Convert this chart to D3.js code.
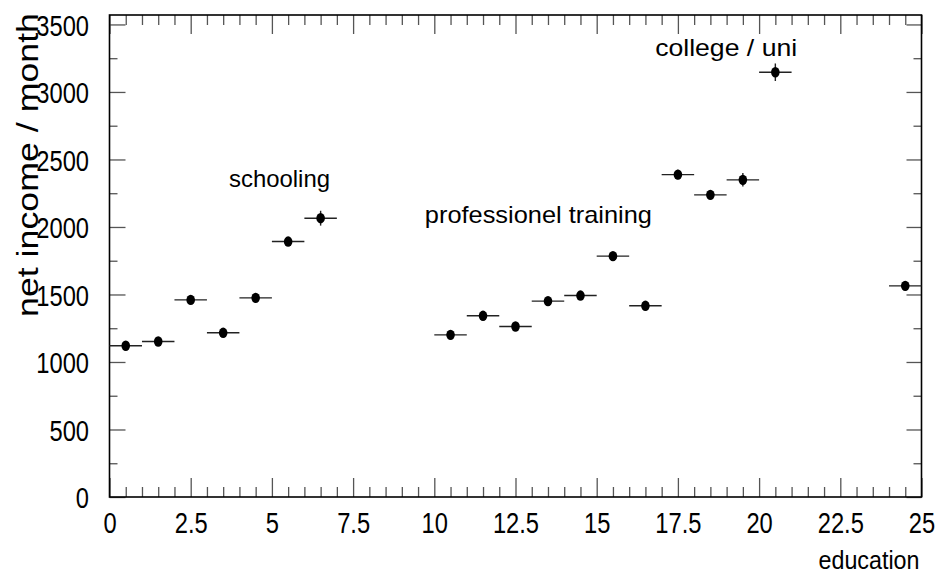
<!DOCTYPE html>
<html>
<head>
<meta charset="utf-8">
<script src="https://cdn.jsdelivr.net/npm/d3@7"></script>
<style>
  html, body { margin: 0; padding: 0; background: #fff; }
  svg { display: block; }
  text { font-family: "Liberation Sans", Arial, sans-serif; fill: #000; }
</style>
</head>
<body>
<svg id="chart" width="940" height="581"></svg>
<script>
// ---- data ----
const binCenters = [0.5, 1.5, 2.5, 3.5, 4.5, 5.5, 6.5, 10.5, 11.5, 12.5, 13.5, 14.5, 15.5, 16.5, 17.5, 18.5, 19.5, 20.5, 24.5];
const incomes    = [1120, 1152, 1460, 1216, 1475, 1892, 2065, 1201, 1342, 1263, 1451, 1492, 1784, 1416, 2388, 2238, 2349, 3146, 1564];
const errors     = [25, 25, 25, 25, 25, 30, 55, 20, 25, 25, 25, 25, 30, 25, 35, 30, 50, 65, 35];
const binWidth = 1;
const xTickLabels = [0, 2.5, 5, 7.5, 10, 12.5, 15, 17.5, 20, 22.5, 25];
const yTickLabels = [0, 500, 1000, 1500, 2000, 2500, 3000, 3500];
const groupLabels = ["schooling", "professionel training", "college / uni"];
const xTitle = "education";
const yTitle = "net income / month";

// ---- layout ----
const svg = d3.select("#chart");
const L = 109.5, R = 921.5, T = 15, B = 497;
const x = d3.scaleLinear().domain([0, 25]).range([L, R]);
const y = d3.scaleLinear().domain([0, 3570]).range([B, T]);

const xMinor = d3.range(0, 25.001, 0.5).filter(v => Math.abs(v / 2.5 - Math.round(v / 2.5)) > 1e-6);
const yMinor = d3.range(250, 3570, 500);

const tickColor = "#555";
function styleAxis(g) {
  g.select(".domain").remove();
  g.selectAll(".tick line").attr("stroke", tickColor).attr("stroke-width", 1.3);
}

const SX = 0.79;
// bottom axis: major
const gb = svg.append("g").attr("transform", `translate(0,${B})`)
  .call(d3.axisBottom(x).tickValues(xTickLabels).tickFormat(d3.format("~g")).tickSize(-19).tickPadding(35));
styleAxis(gb);
gb.selectAll("text").attr("font-size", 30).attr("dy", 0).attr("y", 36)
  .attr("transform", `scale(${SX},1)`).attr("x", 0);
// bottom minor
styleAxis(svg.append("g").attr("transform", `translate(0,${B})`)
  .call(d3.axisBottom(x).tickValues(xMinor).tickFormat("").tickSize(-10)));
// top axis
styleAxis(svg.append("g").attr("transform", `translate(0,${T})`)
  .call(d3.axisTop(x).tickValues(xTickLabels).tickFormat("").tickSize(-19)));
styleAxis(svg.append("g").attr("transform", `translate(0,${T})`)
  .call(d3.axisTop(x).tickValues(xMinor).tickFormat("").tickSize(-10)));

// left axis
const gl = svg.append("g").attr("transform", `translate(${L},0)`)
  .call(d3.axisLeft(y).tickValues(yTickLabels).tickFormat(d3.format("d")).tickSize(-16));
styleAxis(gl);
gl.selectAll("text").attr("font-size", 30).attr("dy", "0.36em")
  .attr("x", -20.5 / SX).attr("transform", `scale(${SX},1)`);
styleAxis(svg.append("g").attr("transform", `translate(${L},0)`)
  .call(d3.axisLeft(y).tickValues(yMinor).tickFormat("").tickSize(-8)));
// right axis
styleAxis(svg.append("g").attr("transform", `translate(${R},0)`)
  .call(d3.axisRight(y).tickValues(yTickLabels).tickFormat("").tickSize(-15)));
styleAxis(svg.append("g").attr("transform", `translate(${R},0)`)
  .call(d3.axisRight(y).tickValues(yMinor).tickFormat("").tickSize(-8)));

// frame
svg.append("rect").attr("x", L).attr("y", T).attr("width", R - L).attr("height", B - T)
  .attr("fill", "none").attr("stroke", "#000").attr("stroke-width", 1.6);

// ---- data points ----
const pts = binCenters.map((c, i) => ({ c, v: incomes[i], e: errors[i] }));
const gp = svg.append("g");
gp.selectAll("line.h").data(pts).join("line").attr("class", "h")
  .attr("x1", d => x(d.c - binWidth / 2)).attr("x2", d => x(d.c + binWidth / 2))
  .attr("y1", d => y(d.v)).attr("y2", d => y(d.v))
  .attr("stroke", "#222").attr("stroke-width", 1.4);
gp.selectAll("line.v").data(pts).join("line").attr("class", "v")
  .attr("x1", d => x(d.c)).attr("x2", d => x(d.c))
  .attr("y1", d => y(d.v - d.e)).attr("y2", d => y(d.v + d.e))
  .attr("stroke", "#222").attr("stroke-width", 1.4);
gp.selectAll("ellipse").data(pts).join("ellipse")
  .attr("cx", d => x(d.c)).attr("cy", d => y(d.v))
  .attr("rx", 4.3).attr("ry", 5.2).attr("fill", "#000");

// ---- annotations ----
const annPos = [[3.68, 2299, 101], [9.71, 2030, 227], [16.8, 3269, 142]];
groupLabels.forEach((t, i) => {
  const [ax, ay, w] = annPos[i];
  svg.append("text").attr("x", x(ax)).attr("y", y(ay))
    .attr("font-size", 24).attr("textLength", w).attr("lengthAdjust", "spacingAndGlyphs")
    .text(t);
});

// ---- axis titles ----
svg.append("text").attr("x", R - 2).attr("y", 568.5).attr("text-anchor", "end")
  .attr("font-size", 26).attr("textLength", 101).attr("lengthAdjust", "spacingAndGlyphs")
  .text(xTitle);
svg.append("text").attr("transform", `translate(37.5,${13}) rotate(-90)`)
  .attr("text-anchor", "end").attr("font-size", 29)
  .attr("textLength", 304).attr("lengthAdjust", "spacingAndGlyphs")
  .text(yTitle);
</script>
</body>
</html>
